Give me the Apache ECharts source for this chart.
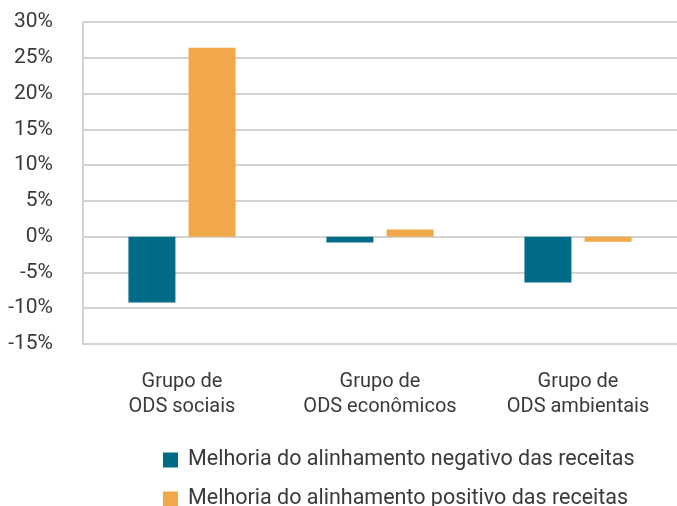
<!DOCTYPE html>
<html>
<head>
<meta charset="utf-8">
<script src="https://cdn.jsdelivr.net/npm/echarts@6/dist/echarts.min.js"></script>
<style>
html,body{margin:0;padding:0;background:#fff;}
#chart{width:677px;height:506px;}
</style>
</head>
<body>
<div id="chart"></div>
<script>
const categories = ['Grupo de\nODS sociais', 'Grupo de\nODS econômicos', 'Grupo de\nODS ambientais'];
const seriesNames = ['Melhoria do alinhamento negativo das receitas', 'Melhoria do alinhamento positivo das receitas'];
const negativeValues = [-9.2, -0.8, -6.4];
const positiveValues = [26.4, 1.0, -0.7];
const yMin = -15, yMax = 30, yStep = 5;

const font = 'Roboto, "Liberation Sans", sans-serif';
const textColor = '#3a3a3a';
const gridColor = '#d3d3d3';

function legendFor(name, top) {
  return {
    orient: 'horizontal',
    left: 158,
    top: top,
    itemWidth: 15,
    itemHeight: 15,
    icon: 'rect',
    textStyle: {fontFamily: font, fontSize: 21.5, color: textColor, padding: [0, 0, 0, 5]},
    data: [name]
  };
}

const chart = echarts.init(document.getElementById('chart'), null, {renderer: 'canvas'});
chart.setOption({
  animation: false,
  textStyle: {fontFamily: font},
  grid: {left: 83, right: -12, top: 22, bottom: 162, containLabel: false},
  legend: [legendFor(seriesNames[0], 444), legendFor(seriesNames[1], 483)],
  xAxis: {
    type: 'category',
    data: categories,
    axisLine: {show: false, onZero: false},
    axisTick: {show: false},
    axisLabel: {interval: 0, hideOverlap: false, fontFamily: font, fontSize: 20, color: textColor, lineHeight: 25, margin: 25}
  },
  yAxis: {
    type: 'value',
    min: yMin,
    max: yMax,
    interval: yStep,
    axisLine: {show: true, lineStyle: {color: gridColor, width: 2}},
    axisTick: {show: false},
    splitLine: {show: true, lineStyle: {color: gridColor, width: 2}},
    axisLabel: {fontFamily: font, fontSize: 21, color: textColor, margin: 30, formatter: v => v + '%'}
  },
  series: [
    {name: seriesNames[0], type: 'bar', data: negativeValues, barWidth: 47, barGap: '28%', itemStyle: {color: '#006c88'}},
    {name: seriesNames[1], type: 'bar', data: positiveValues, barWidth: 47, barGap: '28%', itemStyle: {color: '#f0a84a'}}
  ]
});
</script>
</body>
</html>
